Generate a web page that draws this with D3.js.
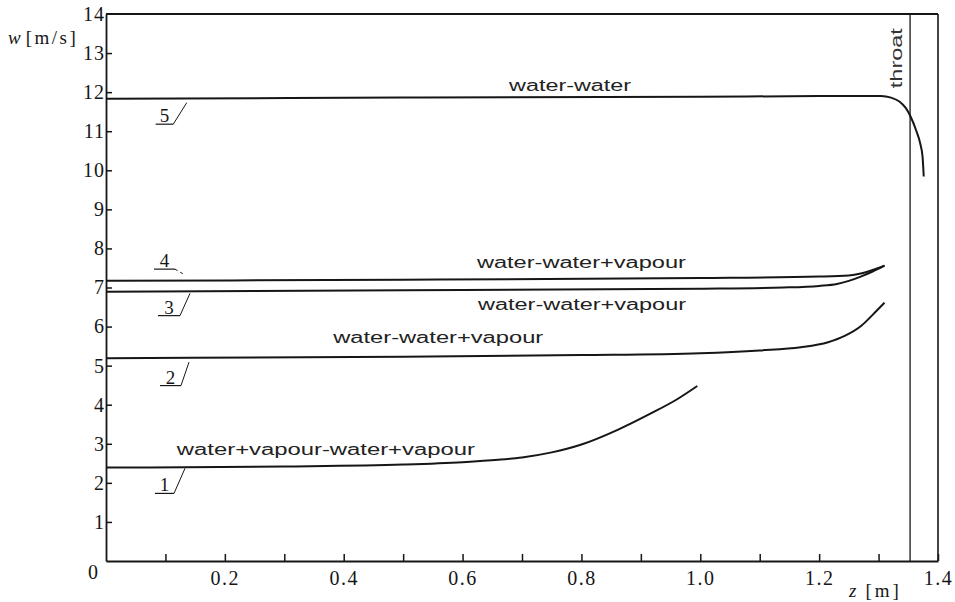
<!DOCTYPE html>
<html>
<head>
<meta charset="utf-8">
<script src="https://cdn.jsdelivr.net/npm/d3@7"></script>
<style>
  html, body { margin: 0; padding: 0; background: #fff; }
  svg { display: block; }
  .tick text { font-family: 'Liberation Serif', 'DejaVu Serif', serif; font-size: 20px; letter-spacing: 1.5px; }
</style>
</head>
<body>
<svg id="chart" width="955" height="602"></svg>
<script>
// Flow velocity w along the nozzle axis z, five cases
const curve1Z = [0, 0.30, 0.50, 0.60, 0.66, 0.70, 0.75, 0.80, 0.86, 0.916, 0.961, 0.995];
const curve1W = [2.39, 2.42, 2.47, 2.53, 2.59, 2.65, 2.78, 2.98, 3.35, 3.77, 4.14, 4.48];

const curve2Z = [0, 0.50, 0.80, 1.00, 1.10, 1.169, 1.215, 1.243, 1.271, 1.290, 1.310];
const curve2W = [5.19, 5.23, 5.27, 5.32, 5.39, 5.47, 5.60, 5.76, 6.02, 6.30, 6.61];

const curve3Z = [0, 0.50, 1.00, 1.14, 1.20, 1.23, 1.25, 1.27, 1.29, 1.31];
const curve3W = [6.89, 6.93, 6.97, 7.00, 7.04, 7.09, 7.17, 7.28, 7.41, 7.56];

const curve4Z = [0, 0.50, 1.00, 1.20, 1.25, 1.27, 1.29, 1.31];
const curve4W = [7.17, 7.20, 7.24, 7.28, 7.31, 7.36, 7.45, 7.56];

const curve5Z = [0, 0.50, 1.00, 1.20, 1.304, 1.321, 1.335, 1.346, 1.354, 1.363, 1.370, 1.374, 1.376];
const curve5W = [11.83, 11.86, 11.88, 11.90, 11.90, 11.86, 11.76, 11.59, 11.37, 11.03, 10.69, 10.35, 9.84];

const curveIds = ["1", "2", "3", "4", "5"];
const curveNames = [
  "water+vapour-water+vapour",
  "water-water+vapour",
  "water-water+vapour",
  "water-water+vapour",
  "water-water"
];

const xTickValues = [0.1, 0.2, 0.3, 0.4, 0.5, 0.6, 0.7, 0.8, 0.9, 1.0, 1.1, 1.2, 1.3, 1.4];
const xTickLabels = ["", "0.2", "", "0.4", "", "0.6", "", "0.8", "", "1.0", "", "1.2", "", "1.4"];
const yTickValues = [1, 2, 3, 4, 5, 6, 7, 8, 9, 10, 11, 12, 13, 14];
const throatZ = 1.353;

// ---- layout ----
const svg = d3.select("#chart");
const x = d3.scaleLinear().domain([0, 1.4]).range([106, 938]);
const y = d3.scaleLinear().domain([0, 14]).range([561, 14]);
const ink = "#161616";
const serif = "'Liberation Serif', 'DejaVu Serif', serif";
const sans = "'Liberation Sans', 'DejaVu Sans', sans-serif";

const series = [
  curve1Z.map((z, i) => ({ z, w: curve1W[i] })),
  curve2Z.map((z, i) => ({ z, w: curve2W[i] })),
  curve3Z.map((z, i) => ({ z, w: curve3W[i] })),
  curve4Z.map((z, i) => ({ z, w: curve4W[i] })),
  curve5Z.map((z, i) => ({ z, w: curve5W[i] }))
];

// frame: top edge and right edge
svg.append("line")
  .attr("x1", x(0)).attr("x2", x(1.4)).attr("y1", y(14)).attr("y2", y(14))
  .attr("stroke", ink).attr("stroke-width", 1.8);
svg.append("line")
  .attr("x1", x(1.4)).attr("x2", x(1.4)).attr("y1", y(14)).attr("y2", y(0))
  .attr("stroke", ink).attr("stroke-width", 1.6);

// throat section
svg.append("line")
  .attr("x1", x(throatZ)).attr("x2", x(throatZ)).attr("y1", y(14)).attr("y2", y(0))
  .attr("stroke", ink).attr("stroke-width", 1.3);
svg.append("text")
  .attr("transform", `translate(${x(throatZ) - 8},${y(12.87)}) rotate(-90)`)
  .attr("text-anchor", "middle")
  .attr("font-family", sans).attr("font-size", 16)
  .attr("textLength", 60).attr("lengthAdjust", "spacingAndGlyphs")
  .attr("fill", "#333")
  .text("throat");

// x axis
const xAxis = d3.axisBottom(x)
  .tickValues(xTickValues)
  .tickSizeInner(-7).tickSizeOuter(0)
  .tickPadding(10)
  .tickFormat((d, i) => xTickLabels[i]);
const gx = svg.append("g").attr("transform", `translate(0,${y(0)})`).call(xAxis);
gx.select(".domain").attr("stroke", ink).attr("stroke-width", 1.8);
gx.selectAll(".tick line").attr("stroke", ink).attr("stroke-width", 1.5);
gx.selectAll(".tick text").attr("fill", ink).attr("dy", "0.71em");
svg.append("text")
  .attr("x", x(0) - 13).attr("y", y(0) + 18)
  .attr("text-anchor", "middle")
  .style("font-family", serif).style("font-size", "20px").attr("fill", ink)
  .text("0");

// y axis
const yAxis = d3.axisLeft(y)
  .tickValues(yTickValues)
  .tickSizeInner(-6).tickSizeOuter(0)
  .tickPadding(1)
  .tickFormat(d3.format("d"));
const gy = svg.append("g").attr("transform", `translate(${x(0)},0)`).call(yAxis);
gy.select(".domain").attr("stroke", ink).attr("stroke-width", 1.8);
gy.selectAll(".tick line").attr("stroke", ink).attr("stroke-width", 1.5)
  .filter(d => d === 14).remove();
gy.selectAll(".tick text").attr("fill", ink).style("letter-spacing", "1px");

// axis titles
const wTitle = svg.append("text")
  .attr("x", 8).attr("y", 44)
  .style("font-family", serif).style("font-size", "19px").attr("fill", ink);
wTitle.append("tspan").attr("font-style", "italic").text("w");
wTitle.append("tspan").attr("dx", 5).style("letter-spacing", "2.5px").text("[m/s]");

const zTitle = svg.append("text")
  .attr("x", 849).attr("y", 597)
  .style("font-family", serif).style("font-size", "19px").attr("fill", ink);
zTitle.append("tspan").attr("font-style", "italic").text("z");
zTitle.append("tspan").attr("dx", 9).style("letter-spacing", "3px").text("[m]");

// curves
const line = d3.line()
  .x(d => x(d.z)).y(d => y(d.w))
  .curve(d3.curveMonotoneX);
svg.append("g").selectAll("path")
  .data(series)
  .join("path")
  .attr("d", line)
  .attr("fill", "none")
  .attr("stroke", ink)
  .attr("stroke-width", 2)
  .attr("stroke-linejoin", "round");

// curve descriptions (anchor in data units, width of the lettering)
const nameAnchors = [
  { z: 0.370, w: 2.71, len: 298 },
  { z: 0.559, w: 5.58, len: 210 },
  { z: 0.801, w: 6.42, len: 208 },
  { z: 0.800, w: 7.50, len: 209 },
  { z: 0.781, w: 12.02, len: 122 }
];
svg.append("g").selectAll("text")
  .data(nameAnchors)
  .join("text")
  .attr("x", d => x(d.z) - d.len / 2)
  .attr("y", d => y(d.w))
  .attr("textLength", d => d.len)
  .attr("lengthAdjust", "spacingAndGlyphs")
  .attr("font-family", sans).attr("font-size", 16)
  .attr("fill", "#222")
  .text((d, i) => curveNames[i]);

// numbered leaders: underline from u0 to u1 at height uw, then a stroke to the curve
const leaders = [
  { u0: 0.0824, u1: 0.1144, uw: 1.73, tz: 0.1329, tw: 2.37, dash: null },
  { u0: 0.0909, u1: 0.1262, uw: 4.49, tz: 0.1397, tw: 5.09, dash: null },
  { u0: 0.0875, u1: 0.1245, uw: 6.28, tz: 0.1413, tw: 6.85, dash: null },
  { u0: 0.0808, u1: 0.1161, uw: 7.47, tz: 0.1296, tw: 7.35, dash: "3,3" },
  { u0: 0.0836, u1: 0.1132, uw: 11.18, tz: 0.1358, tw: 11.73, dash: null }
];
const lg = svg.append("g");
lg.selectAll("line.under")
  .data(leaders).join("line").attr("class", "under")
  .attr("x1", d => x(d.u0)).attr("x2", d => x(d.u1))
  .attr("y1", d => y(d.uw)).attr("y2", d => y(d.uw))
  .attr("stroke", ink).attr("stroke-width", 1.2);
lg.selectAll("line.slash")
  .data(leaders).join("line").attr("class", "slash")
  .attr("x1", d => x(d.u1)).attr("x2", d => x(d.tz))
  .attr("y1", d => y(d.uw)).attr("y2", d => y(d.tw))
  .attr("stroke", ink).attr("stroke-width", 1)
  .attr("stroke-dasharray", d => d.dash);
lg.selectAll("text")
  .data(leaders).join("text")
  .attr("x", d => (x(d.u0) + x(d.u1)) / 2)
  .attr("y", d => y(d.uw) - 2)
  .attr("text-anchor", "middle")
  .style("font-family", serif).style("font-size", "19px")
  .attr("fill", ink)
  .text((d, i) => curveIds[i]);
</script>
</body>
</html>
